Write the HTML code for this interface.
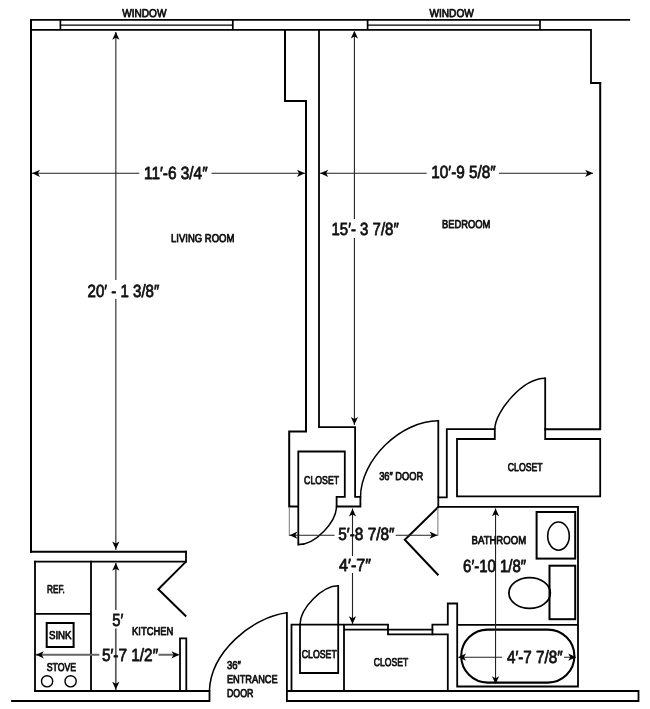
<!DOCTYPE html>
<html><head><meta charset="utf-8">
<style>
html,body{margin:0;padding:0;background:#fff;}
svg{display:block;}
text{font-family:"Liberation Sans",sans-serif;fill:#111;stroke:#111;stroke-linejoin:round;text-rendering:geometricPrecision;}
.w{fill:none;stroke:#000;stroke-width:1.8;stroke-linecap:square;stroke-linejoin:miter;}
.o{stroke-width:2;}
.t{stroke-width:1.5;}
.c{fill:none;stroke:#000;stroke-width:1.5;stroke-linecap:butt;}
.d{fill:none;stroke:#222;stroke-width:1.1;}
.g{fill:none;stroke:#777;stroke-width:1;}
.a{fill:#000;stroke:none;}
</style></head><body>
<svg width="650" height="709" viewBox="0 0 650 709">
<rect width="650" height="709" fill="#fff"/>
<!-- WALLS -->
<g class="w">
<path d="M31,19.95 H629.2"/>
<path d="M186,551.75 H31"/><path class="o" d="M31,551.75 V20"/>
<path d="M186,551.75 V561.6 H35"/>
<path d="M31,29.95 H591 V83 H600.2"/>
<path class="o" d="M600.2,83 V429.2 H545.2"/>
<path d="M60.4,20 V30 M232.8,20 V30 M367.6,20 V30 M540,20 V30" style="stroke-width:1.7;stroke-linecap:butt"/>
<path d="M60,25.1 H233 M367,25.1 H540" style="stroke-width:1.4;stroke-linecap:butt"/>
<path class="o" d="M285,30 V101 H306 V431.5 H289.2 V506.5 H298"/>
<path d="M319,30 V427.2 H355.1 V496.85 H360.4 V506.5 H336.6 V496.85 H344.8 V451.5 H298.3 V544.6"/>
<path d="M438.3,420.8 V506.8"/>
<path d="M438.3,497.3 H446.8 V429.2 H494.8 V439 H457 V496.3 H600.2 V439 H545.2 V378.3"/>
<path d="M438.3,506.8 H578 V686.5 H457.2 V603.5 H447.8 V624.6 H432.4 V634.4 M457.2,624.8 H578"/>
<path d="M447.8,691 V634.4 H388 V624.6 H291.5 V691 M344,624.6 V691 M344,629.6 H432.4"/>
<path d="M300,624.6 V673 H338.2 V585.8"/>
<path d="M286.9,612.8 V691"/>
<path d="M286.9,691 H638.5 V701 H286.9 Z"/>
<path d="M35,691 H209.5 V701 H12"/>
<path d="M35,561.6 V691 M91,561.6 V691 M35,613.8 H91"/>
<path d="M180,691 V638.3 H186.3 V691"/>
<path d="M186,561.6 L158.3,589.3 L186.2,616.5" style="stroke-linecap:butt;stroke-width:2"/>
<path d="M438.3,507 L404.8,539.8 L438.4,575.3" style="stroke-linecap:butt;stroke-width:2"/>
</g>
<g class="c">
<path d="M298.3,544.6 C315.8,544.6 336.5,521.6 336.5,506.3"/>
<path d="M438.3,420.8 C400.5,420.8 360.5,460.1 360.5,497.2"/>
<path d="M545.2,378.2 C522.4,378.2 494.8,411.8 494.8,429.2"/>
<path d="M338.2,585.8 C322.4,585.8 300.0,608.1 300.0,624.6"/>
<path d="M286.9,612.8 C252.3,617 210.5,652 209.4,691"/>
</g>
<!-- fixtures -->
<g class="w">
<rect class="o" x="46.7" y="623" width="26.9" height="24"/>
<circle cx="47.1" cy="681.3" r="5.6" style="stroke-width:1.4"/>
<circle cx="70.6" cy="681.3" r="5.6" style="stroke-width:1.4"/>
<rect class="o" x="536.6" y="512" width="38.6" height="46.6"/>
<ellipse cx="558.5" cy="536.1" rx="10.8" ry="14.1" style="stroke-width:1.6"/>
<rect class="o" x="549.5" y="565.7" width="25.7" height="53.5"/>
<ellipse cx="529.6" cy="593" rx="20.7" ry="15.4" style="stroke-width:1.8"/>
<rect x="461.2" y="629.6" width="113.2" height="53" rx="26.5" ry="26.5" style="stroke-width:2.1"/>
</g>
<!-- extension lines -->
<path class="g" d="M289.3,507 V536 M437.9,508 V536"/>
<!-- DIM LINES -->
<g class="d">
<path d="M32,173.3 H139.3 M211.5,173.3 H305"/>
<path d="M320,173.3 H426.7 M499,173.3 H593"/>
<path d="M115.85,32 V280 M115.85,299 V550"/>
<path d="M354.4,32 V219 M354.4,238 V425"/>
<path d="M115.8,563 V610 M115.8,628.5 V690" style="stroke:#5a5a5a;stroke-width:1.7"/>
<path d="M36,654.8 H99.3 M158.5,654.8 H178.5" style="stroke:#666;stroke-width:1.9"/>
<path d="M289.4,535.2 H334.5 M395.7,535.2 H437.5"/>
<path d="M352.5,508.5 V556 M352.5,573 V624"/>
<path d="M495.55,508.5 V684"/>
<path d="M458.5,657.2 H502 M564,657.2 H576"/>
</g>
<!-- ARROWS -->
<defs>
<path id="ah" d="M0,0 L-7.8,-3.6 L-5.7,0 L-7.8,3.6 Z"/>
</defs>
<g class="a">
<use href="#ah" transform="translate(32.2,173.3) rotate(180)"/>
<use href="#ah" transform="translate(304.8,173.3)"/>
<use href="#ah" transform="translate(320.4,173.3) rotate(180)"/>
<use href="#ah" transform="translate(593,173.3)"/>
<use href="#ah" transform="translate(115.85,32) rotate(-90)"/>
<use href="#ah" transform="translate(115.85,549.3) rotate(90)"/>
<use href="#ah" transform="translate(354.4,30.8) rotate(-90)"/>
<use href="#ah" transform="translate(354.4,424.8) rotate(90)"/>
<use href="#ah" transform="translate(115.8,563) rotate(-90)"/>
<use href="#ah" transform="translate(115.8,689.5) rotate(90)"/>
<use href="#ah" transform="translate(36,654.8) rotate(180)"/>
<use href="#ah" transform="translate(179.3,654.8)"/>
<use href="#ah" transform="translate(289.6,535.2) rotate(180)"/>
<use href="#ah" transform="translate(437.4,535.2)"/>
<use href="#ah" transform="translate(352.5,508.7) rotate(-90)"/>
<use href="#ah" transform="translate(352.5,624) rotate(90)"/>
<use href="#ah" transform="translate(495.55,508.5) rotate(-90)"/>
<use href="#ah" transform="translate(495.55,684) rotate(90)"/>
<use href="#ah" transform="translate(458.2,657.2) rotate(180)"/>
<use href="#ah" transform="translate(576,657.2)"/>
</g>
<!-- LABELS (small) -->
<g font-size="11.4" stroke-width="0.8" style="filter:grayscale(1)">
<text x="122.2" y="16.5" textLength="44.3" lengthAdjust="spacingAndGlyphs">WINDOW</text>
<text x="429.5" y="16.5" textLength="44.3" lengthAdjust="spacingAndGlyphs">WINDOW</text>
<text x="171" y="242.4" textLength="63.4" lengthAdjust="spacingAndGlyphs">LIVING ROOM</text>
<text x="441.9" y="228.3" textLength="48.5" lengthAdjust="spacingAndGlyphs">BEDROOM</text>
<text x="47" y="592.8" textLength="17.8" lengthAdjust="spacingAndGlyphs">REF.</text>
<text x="48.9" y="639.3" textLength="22.7" lengthAdjust="spacingAndGlyphs">SINK</text>
<text x="46.7" y="671.1" textLength="29.5" lengthAdjust="spacingAndGlyphs">STOVE</text>
<text x="132" y="634.5" textLength="41.3" lengthAdjust="spacingAndGlyphs">KITCHEN</text>
<text x="226.9" y="669" textLength="13.9" lengthAdjust="spacingAndGlyphs">36″</text>
<text x="226.9" y="682.8" textLength="50.8" lengthAdjust="spacingAndGlyphs">ENTRANCE</text>
<text x="226.9" y="696.5" textLength="26.5" lengthAdjust="spacingAndGlyphs">DOOR</text>
<text x="304.1" y="483.6" textLength="35" lengthAdjust="spacingAndGlyphs">CLOSET</text>
<text x="379.2" y="480.1" textLength="44" lengthAdjust="spacingAndGlyphs">36″ DOOR</text>
<text x="507.8" y="471.4" textLength="34.7" lengthAdjust="spacingAndGlyphs">CLOSET</text>
<text x="301.8" y="657.8" textLength="35" lengthAdjust="spacingAndGlyphs">CLOSET</text>
<text x="373.7" y="666.2" textLength="34.5" lengthAdjust="spacingAndGlyphs">CLOSET</text>
<text x="471.6" y="543.8" textLength="54.5" lengthAdjust="spacingAndGlyphs">BATHROOM</text>
</g>
<!-- DIMENSIONS (large) -->
<g font-size="17.6" stroke-width="0.8" style="filter:grayscale(1)">
<text x="144" y="178.5" textLength="63.6" lengthAdjust="spacingAndGlyphs">11′-6 3/4″</text>
<text x="431.2" y="178.4" textLength="64.6" lengthAdjust="spacingAndGlyphs">10′-9 5/8″</text>
<text x="87.5" y="296.6" textLength="71.8" lengthAdjust="spacingAndGlyphs">20′ - 1 3/8″</text>
<text x="331.5" y="235" textLength="67.2" lengthAdjust="spacingAndGlyphs">15′- 3 7/8″</text>
<text x="112.3" y="626.3" textLength="11" lengthAdjust="spacingAndGlyphs">5′</text>
<text x="101.9" y="660.8" textLength="56.2" lengthAdjust="spacingAndGlyphs">5′-7 1/2″</text>
<text x="338.3" y="539.8" textLength="56.2" lengthAdjust="spacingAndGlyphs">5′-8 7/8″</text>
<text x="339" y="571.3" textLength="32" lengthAdjust="spacingAndGlyphs">4′-7″</text>
<text x="463.1" y="572" textLength="63" lengthAdjust="spacingAndGlyphs">6′-10 1/8″</text>
<text x="506.9" y="663.1" textLength="55.8" lengthAdjust="spacingAndGlyphs">4′-7 7/8″</text>
</g>
</svg>
</body></html>
